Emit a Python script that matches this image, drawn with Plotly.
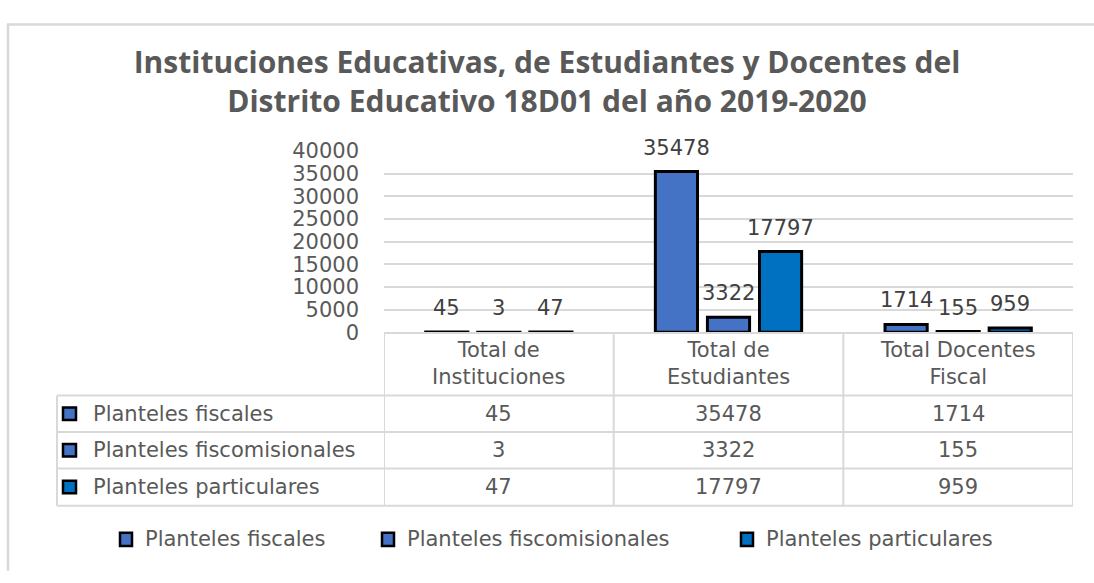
import plotly.graph_objects as go

W, H = 1094, 583
categories = ["Total de<br>Instituciones", "Total de<br>Estudiantes", "Total Docentes<br>Fiscal"]
series_names = ["Planteles fiscales", "Planteles fiscomisionales", "Planteles particulares"]
fiscales = [45, 35478, 1714]
fiscomisionales = [3, 3322, 155]
particulares = [47, 17797, 959]
series_values = [fiscales, fiscomisionales, particulares]
colors = ["#4472C4", "#4472C4", "#0070C0"]
y_ticks = [0, 5000, 10000, 15000, 20000, 25000, 30000, 35000, 40000]

FONT = "DejaVu Sans"
FS = 21
TXT = "#595959"
GRID = "#d9d9d9"

def px_x(x):
    return x / W

def px_y(y):
    return 1 - y / H

x_left, x_lab, x_right = 57, 384, 1073
y_plot_top = 145
y_head_top, y_head_bot = 334, 400
row_bounds = [400, 438, 476, 515]
BARGAP, BARGROUPGAP = 0.32, 0.19
slot_px = (x_right - x_lab) / len(categories) * (1 - BARGAP) / len(series_names)

fig = go.Figure()
annotations = []
for k, (name, vals, col) in enumerate(zip(series_names, series_values, colors)):
    fig.add_trace(go.Bar(
        name=name, x=categories, y=vals,
        marker=dict(color=col, line=dict(color="black", width=3)),
        showlegend=False,
    ))
    for c, v in zip(categories, vals):
        annotations.append(dict(x=c, xref="x", y=v, yref="y", text=str(v), showarrow=False,
                                xshift=(k - 1) * slot_px, yshift=24, xanchor="center",
                                yanchor="middle", font=dict(family=FONT, size=FS, color="#404040")))

shapes = []
line = dict(color=GRID, width=2)
for yb in row_bounds:
    shapes.append(dict(type="line", xref="paper", yref="paper", x0=px_x(x_left), x1=px_x(x_right),
                       y0=px_y(yb), y1=px_y(yb), line=line))
shapes.append(dict(type="line", xref="paper", yref="paper", x0=px_x(x_left), x1=px_x(x_left),
                   y0=px_y(row_bounds[0]), y1=px_y(row_bounds[-1]), line=line))
for xb in [-0.5, 0.5, 1.5, 2.5]:
    shapes.append(dict(type="line", xref="x", yref="paper", x0=xb, x1=xb,
                       y0=px_y(y_head_top), y1=px_y(row_bounds[-1]), line=line))
# outer chart border (top and left)
shapes.append(dict(type="line", xref="paper", yref="paper", x0=px_x(7), x1=1,
                   y0=px_y(13), y1=px_y(13), line=dict(color=GRID, width=2.5)))
shapes.append(dict(type="line", xref="paper", yref="paper", x0=px_x(8), x1=px_x(8),
                   y0=px_y(13), y1=0, line=dict(color=GRID, width=2.5)))

for c in categories:
    annotations.append(dict(x=c, xref="x", y=px_y((y_head_top + y_head_bot) / 2), yref="paper",
                            text=c, showarrow=False, font=dict(family=FONT, size=FS, color=TXT),
                            xanchor="center", yanchor="middle"))
for i, (name, vals, col) in enumerate(zip(series_names, series_values, colors)):
    yc = (row_bounds[i] + row_bounds[i + 1]) / 2
    shapes.append(dict(type="rect", xref="paper", yref="paper", x0=px_x(63), x1=px_x(76),
                       y0=px_y(yc + 6.5), y1=px_y(yc - 6.5), fillcolor=col,
                       line=dict(color="black", width=2.5)))
    annotations.append(dict(x=px_x(91), xref="paper", y=px_y(yc), yref="paper", text=name,
                            showarrow=False, xanchor="left", yanchor="middle",
                            font=dict(family=FONT, size=FS, color=TXT)))
    for c, v in zip(categories, vals):
        annotations.append(dict(x=c, xref="x", y=px_y(yc), yref="paper", text=str(v),
                                showarrow=False, xanchor="center", yanchor="middle",
                                font=dict(family=FONT, size=FS, color=TXT)))

legend_y = 550
legend_x = [120, 382, 741]
for name, col, lx in zip(series_names, colors, legend_x):
    shapes.append(dict(type="rect", xref="paper", yref="paper", x0=px_x(lx), x1=px_x(lx + 12),
                       y0=px_y(legend_y + 7), y1=px_y(legend_y - 7), fillcolor=col,
                       line=dict(color="black", width=2.5)))
    annotations.append(dict(x=px_x(lx + 23), xref="paper", y=px_y(legend_y), yref="paper",
                            text=name, showarrow=False, xanchor="left", yanchor="middle",
                            font=dict(family=FONT, size=FS, color=TXT)))

fig.update_layout(
    width=W, height=H,
    margin=dict(l=0, r=0, t=0, b=0),
    paper_bgcolor="white", plot_bgcolor="white",
    barmode="group", bargap=BARGAP, bargroupgap=BARGROUPGAP,
    title=dict(text="<b>Instituciones Educativas, de Estudiantes y Docentes del<br>Distrito Educativo 18D01 del año 2019-2020</b>",
               x=0.5, xanchor="center", y=px_y(73), yanchor="middle",
               font=dict(family="Open Sans", size=30, color=TXT)),
    xaxis=dict(domain=[px_x(x_lab), px_x(x_right)], showticklabels=False, showgrid=False,
               showline=True, linecolor=GRID, linewidth=2, ticks="", range=[-0.5, 2.5]),
    yaxis=dict(domain=[px_y(y_head_top), px_y(y_plot_top)], range=[0, 40000], tickvals=y_ticks,
               tickformat="d",
               showgrid=True, gridcolor=GRID, gridwidth=1.5, zeroline=False, showline=False,
               tickfont=dict(family=FONT, size=FS, color=TXT), ticklabelstandoff=24),
    showlegend=False,
    shapes=shapes, annotations=annotations,
)
post = (
    "document.documentElement.style.margin='0';document.body.style.margin='0';"
    "document.body.style.overflow='hidden';"
    "var d=document.getElementsByClassName('plotly-graph-div')[0];"
    "d.style.position='fixed';d.style.top='0px';d.style.left='0px';"
)
fig.write_html("out.html", post_script=post, config={"displayModeBar": False})
